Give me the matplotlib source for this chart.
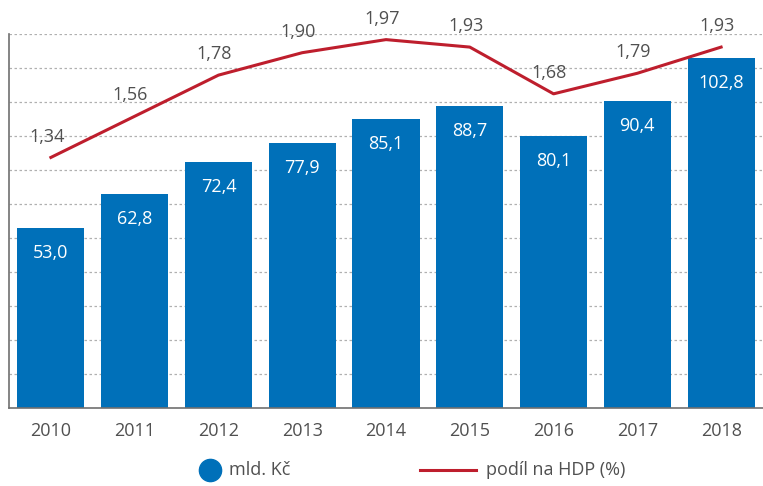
import matplotlib.pyplot as plt
from matplotlib.lines import Line2D

years = ["2010", "2011", "2012", "2013", "2014", "2015", "2016", "2017", "2018"]
mld_kc = [53.0, 62.8, 72.4, 77.9, 85.1, 88.7, 80.1, 90.4, 102.8]
podil_hdp = [1.34, 1.56, 1.78, 1.90, 1.97, 1.93, 1.68, 1.79, 1.93]

blue = "#0070b9"
red = "#be1e2d"
gray = "#505050"

plt.rcParams["font.family"] = ["Open Sans", "DejaVu Sans"]

W, H = 763, 486
fig = plt.figure(figsize=(W / 100, H / 100), dpi=100)
ax = fig.add_axes([9 / W, 1 - 408 / H, 754 / W, 374 / H])
x = list(range(len(years)))

ax.bar(x, mld_kc, width=0.8, color=blue, zorder=2)
for xi, v in zip(x, mld_kc):
    ax.annotate(f"{v:.1f}".replace(".", ","), (xi, v), xytext=(0, -18),
                textcoords="offset points", ha="center", va="center",
                color="white", fontsize=13)

ax.set_xlim(-0.5, len(years) - 0.5)
ax.set_ylim(0, 110)
ax.set_yticks(range(0, 111, 10))
ax.set_yticklabels([])
ax.tick_params(axis="y", length=0)
ax.tick_params(axis="x", length=0, labelsize=13, labelcolor=gray, pad=10)
ax.set_xticks(x)
ax.set_xticklabels(years)
ax.grid(axis="y", linestyle=(0, (2, 2)), color="#b0b0b0", linewidth=0.9, zorder=0)
for s in ["top", "right"]:
    ax.spines[s].set_visible(False)
ax.spines["left"].set_color("#707070")
ax.spines["bottom"].set_color("#707070")
ax.spines["left"].set_linewidth(1.2)
ax.spines["bottom"].set_linewidth(1.2)

ax2 = ax.twinx()
ax2.plot(x, podil_hdp, color=red, linewidth=2.2, zorder=3)
ax2.set_ylim(0, 2.0)
ax2.set_yticks([])
for s in ["top", "right", "left", "bottom"]:
    ax2.spines[s].set_visible(False)
for xi, v in zip(x, podil_hdp):
    ax2.annotate(f"{v:.2f}".replace(".", ","), (xi, v), xytext=(-3, 15),
                 textcoords="offset points", ha="center", va="center",
                 color=gray, fontsize=13)

# legend drawn by hand
ly = 1 - 470 / H
fig.add_artist(Line2D([210 / W], [ly], marker="o", markersize=16, linestyle="none",
                      color=blue, transform=fig.transFigure))
fig.text(229 / W, ly, "mld. Kč", ha="left", va="center", color=gray, fontsize=13)
fig.add_artist(Line2D([420 / W, 476 / W], [ly, ly], color=red, linewidth=2.2,
                      transform=fig.transFigure))
fig.text(486 / W, ly, "podíl na HDP (%)", ha="left", va="center", color=gray,
         fontsize=13)

fig.savefig("out.png", dpi=100)
